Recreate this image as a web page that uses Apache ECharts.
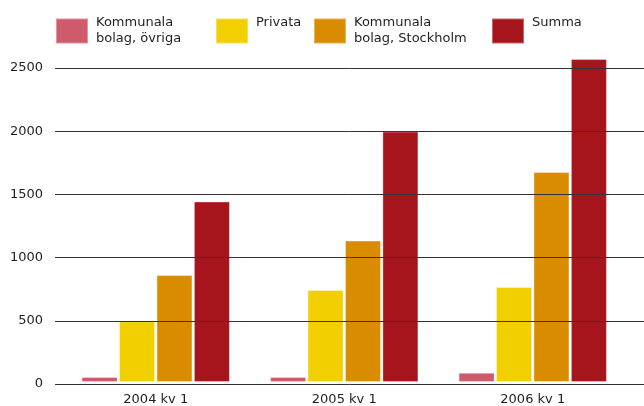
<!DOCTYPE html>
<html>
<head>
<meta charset="utf-8">
<script src="https://cdn.jsdelivr.net/npm/echarts@6/dist/echarts.min.js"></script>
<style>
  html, body { margin: 0; padding: 0; background: #fff; }
  #chart { width: 644px; height: 406px; }
</style>
</head>
<body>
<div id="chart"></div>
<script>
const categories = ['2004 kv 1', '2005 kv 1', '2006 kv 1'];
const kommunalaOvriga = [40, 40, 74];
const privata = [483, 733, 756];
const kommunalaStockholm = [851, 1126, 1672];
const summa = [1437, 1994, 2571];

const names = ['Kommunala\nbolag, övriga', 'Privata', 'Kommunala\nbolag, Stockholm', 'Summa'];
const colors = ['#ce5a6c', '#f2cf00', '#da8c00', '#a6141c'];
const legendLeft = [55, 215, 313, 491];

const chart = echarts.init(document.getElementById('chart'));

const font = 'DejaVu Sans';

const legends = names.map((n, i) => ({
  data: [n],
  left: legendLeft[i],
  top: 15,
  padding: 0,
  itemWidth: 32,
  itemHeight: 25,
  icon: 'rect',
  selectedMode: false,
  formatter: (name) => name.indexOf('\n') < 0 ? name + '\n ' : name,
  textStyle: {
    fontFamily: font,
    fontSize: 13,
    lineHeight: 16,
    color: '#1e1e1e',
    padding: [0, 0, 0, 3]
  }
}));

const mkSeries = (name, data, i) => ({
  name: name,
  type: 'bar',
  xAxisIndex: 1,
  yAxisIndex: 1,
  data: data,
  barWidth: 36,
  barGap: '4%',
  clip: false,
  itemStyle: {
    color: colors[i],
    borderColor: 'rgba(255,255,255,0.35)',
    borderWidth: 1
  }
});

const option = {
  animation: false,
  legend: legends,
  grid: [
    { left: 55, right: 0, top: 68, bottom: 22 },
    { left: 61.5, right: 17, top: 68, bottom: 22 }
  ],
  xAxis: [
    { gridIndex: 0, type: 'value', show: false, min: 0, max: 1 },
    {
      gridIndex: 1,
      type: 'category',
      data: categories,
      axisLine: { show: false },
      axisTick: { show: false },
      axisLabel: {
        fontFamily: font,
        fontSize: 13,
        color: '#1e1e1e',
        margin: 11
      }
    }
  ],
  yAxis: [
    {
      gridIndex: 0,
      type: 'value',
      min: 0,
      max: 2500,
      interval: 500,
      z: 10,
      axisLine: { show: false },
      axisTick: { show: false },
      splitLine: { lineStyle: { color: '#333', width: 1 } },
      axisLabel: {
        fontFamily: font,
        fontSize: 13,
        color: '#1e1e1e',
        margin: 12,
        padding: [0, 0, 9, 0],
        formatter: (v) => String(v)
      }
    },
    { gridIndex: 1, type: 'value', min: 0, max: 2500, show: false }
  ],
  series: [
    mkSeries(names[0], kommunalaOvriga, 0),
    mkSeries(names[1], privata, 1),
    mkSeries(names[2], kommunalaStockholm, 2),
    mkSeries(names[3], summa, 3)
  ]
};

chart.setOption(option);
</script>
</body>
</html>
